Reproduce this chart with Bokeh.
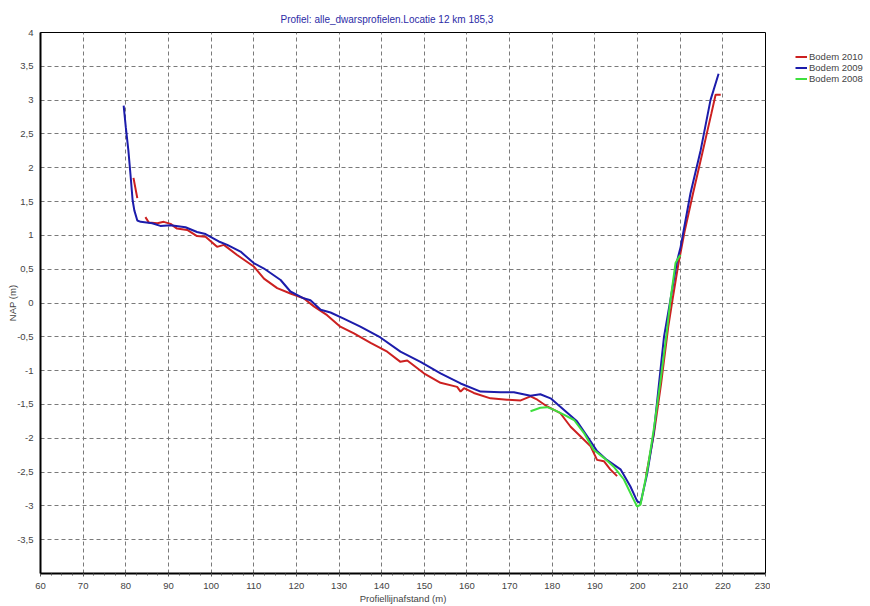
from bokeh.plotting import figure
from bokeh.models import Range1d, FixedTicker, Legend, LegendItem
from bokeh.layouts import row
from bokeh.embed import file_html
from bokeh.resources import INLINE

nan = float("nan")

title_text = "Profiel: alle_dwarsprofielen.Locatie 12 km 185,3"
x_label = "Profiellijnafstand (m)"
y_label = "NAP (m)"

x_ticks = [60, 70, 80, 90, 100, 110, 120, 130, 140, 150, 160, 170, 180, 190, 200, 210, 220, 230]
y_ticks = [-3.5, -3, -2.5, -2, -1.5, -1, -0.5, 0, 0.5, 1, 1.5, 2, 2.5, 3, 3.5, 4]
y_tick_labels = ["-3,5", "-3", "-2,5", "-2", "-1,5", "-1", "-0,5", "0", "0,5", "1", "1,5", "2", "2,5", "3", "3,5", "4"]

series_names = ["Bodem 2010", "Bodem 2009", "Bodem 2008"]

red_x = [81.8, 82.7, nan, 84.6, 85.4, 87.4, 88.9, 90.5, 92.0, 94.4, 96.7, 98.7, 101.4, 103.0, 106.1,
         110.0, 112.4, 115.5, 118.6, 121.7, 124.1, 127.2, 130.3, 133.5, 137.4, 141.3, 144.4, 146.0,
         149.9, 153.8, 157.7, 158.5, 159.3, 161.6, 165.5, 169.4, 172.6, 174.9, 176.5, 178.8, 181.9,
         184.3, 186.6, 189.0, 190.5, 192.1, 193.6, 195.2, nan, 202.0, 203.8, 205.5, 207.2, 208.2,
         209.5, 211.0, 213.0, 215.2, 217.3, 218.3, 219.5]
red_y = [1.85, 1.55, nan, 1.27, 1.19, 1.18, 1.20, 1.17, 1.10, 1.08, 0.99, 0.98, 0.83, 0.86, 0.71,
         0.54, 0.36, 0.22, 0.14, 0.07, -0.05, -0.18, -0.35, -0.45, -0.59, -0.72, -0.87, -0.85,
         -1.04, -1.18, -1.24, -1.31, -1.26, -1.33, -1.41, -1.43, -1.44, -1.38, -1.43, -1.53, -1.63,
         -1.83, -1.97, -2.12, -2.32, -2.34, -2.46, -2.56, nan, -2.55, -1.95, -1.20, -0.35, 0.05,
         0.55, 1.05, 1.62, 2.22, 2.80, 3.08, 3.08]

blue_x = [79.5, 80.0, 80.6, 81.1, 81.6, 82.0, 82.7, 83.5, 86.2, 88.1, 90.5, 94.0, 96.7, 98.7, 101.8,
          103.8, 106.9, 110.0, 112.4, 116.3, 118.6, 121.7, 123.3, 125.7, 128.0, 131.1, 135.0, 139.7,
          144.4, 149.1, 153.8, 158.5, 163.2, 167.9, 171.0, 174.9, 177.2, 179.6, 182.7, 185.8, 188.2,
          190.5, 192.8, 196.0, 198.3, 199.9, 200.7, 202.3, 203.8, 206.2, 209.3, 210.1, 212.4, 214.8,
          217.1, 219.0]
blue_y = [2.92, 2.60, 2.26, 1.90, 1.52, 1.37, 1.22, 1.20, 1.18, 1.14, 1.15, 1.12, 1.05, 1.02, 0.91,
          0.86, 0.76, 0.59, 0.51, 0.34, 0.17, 0.07, 0.04, -0.10, -0.14, -0.23, -0.35, -0.51,
          -0.72, -0.87, -1.04, -1.19, -1.31, -1.32, -1.32, -1.37, -1.35, -1.41, -1.58, -1.75, -1.97,
          -2.19, -2.32, -2.46, -2.71, -2.93, -2.96, -2.51, -1.92, -0.50, 0.63, 0.83, 1.62, 2.26,
          3.00, 3.39]

green_x = [174.9, 177.2, 178.8, 180.4, 182.7, 185.1, 187.4, 189.7, 192.1, 194.4, 196.8, 198.7,
           199.9, 200.7, 202.3, 203.8, 205.4, 206.9, 207.7, 208.9, 209.7, 210.1]
green_y = [-1.60, -1.55, -1.54, -1.58, -1.65, -1.73, -1.92, -2.17, -2.29, -2.42, -2.61, -2.86,
           -3.01, -2.98, -2.47, -1.87, -1.14, -0.40, 0.04, 0.59, 0.68, 0.71]

colors = ["#cc2020", "#1c1cab", "#3ee03e"]
FONT = "Liberation Sans"

p = figure(width=770, height=606, output_backend="svg", toolbar_location=None,
           x_range=Range1d(60, 230), y_range=Range1d(-4, 4),
           min_border_left=40, min_border_right=5, min_border_top=32, min_border_bottom=32,
           background_fill_color="white", border_fill_color="white")

p.title.text = title_text
p.title.align = "left"
p.title.offset = 240
p.title.text_font = FONT
p.title.text_font_size = "10px"
p.title.text_font_style = "normal"
p.title.text_color = "#2b2ba6"
p.title.standoff = 16

p.outline_line_color = "black"
p.outline_line_width = 1

# x axis
xa = p.xaxis[0]
xa.ticker = FixedTicker(ticks=x_ticks, minor_ticks=[60 + 2.5 * i for i in range(69)])
xa.axis_label = x_label
xa.axis_label_text_font = FONT
xa.axis_label_text_font_size = "9.5px"
xa.axis_label_text_font_style = "normal"
xa.axis_label_standoff = 1
xa.major_label_text_font = FONT
xa.major_label_text_font_size = "9.5px"
xa.major_label_standoff = 6
xa.axis_line_width = 2
xa.axis_line_color = "black"
xa.major_tick_in = 0
xa.major_tick_out = 3
xa.minor_tick_in = 0
xa.minor_tick_out = 2
xa.major_tick_line_color = "#555555"
xa.minor_tick_line_color = "#555555"

# y axis
ya = p.yaxis[0]
ya.ticker = FixedTicker(ticks=y_ticks)
ya.major_label_overrides = {t: s for t, s in zip(y_ticks, y_tick_labels)}
ya.axis_label = y_label
ya.axis_label_text_font = FONT
ya.axis_label_text_font_size = "9.5px"
ya.axis_label_text_font_style = "normal"
ya.axis_label_standoff = -4
ya.major_label_text_font = FONT
ya.major_label_text_font_size = "9.5px"
ya.major_label_standoff = 7
ya.axis_line_width = 2
ya.axis_line_color = "black"
ya.major_tick_in = 0
ya.major_tick_out = 0
ya.minor_tick_line_color = None

for g in (p.xgrid[0], p.ygrid[0]):
    g.grid_line_color = "#7a7a7a"
    g.grid_line_dash = "4 3"
    g.grid_line_width = 1

r_red = p.line(red_x, red_y, line_color=colors[0], line_width=2)
r_blue = p.line(blue_x, blue_y, line_color=colors[1], line_width=2)
r_green = p.line(green_x, green_y, line_color=colors[2], line_width=2)

# separate narrow panel that holds the legend (to the right of the plot frame)
q = figure(width=100, height=606, output_backend="svg", toolbar_location=None,
           x_range=Range1d(0, 1), y_range=Range1d(0, 1),
           min_border=0, background_fill_color="white", border_fill_color="white")
q.outline_line_color = None
q.axis.visible = False
q.grid.visible = False
l_red = q.line([nan], [nan], line_color=colors[0], line_width=2)
l_blue = q.line([nan], [nan], line_color=colors[1], line_width=2)
l_green = q.line([nan], [nan], line_color=colors[2], line_width=2)

legend = Legend(items=[LegendItem(label=series_names[0], renderers=[l_red]),
                       LegendItem(label=series_names[1], renderers=[l_blue]),
                       LegendItem(label=series_names[2], renderers=[l_green])],
                location=(25, 489), margin=0, padding=0, spacing=0,
                label_height=11, glyph_height=11, glyph_width=12, label_standoff=2,
                label_text_font=FONT, label_text_font_size="9.5px",
                border_line_color=None, background_fill_alpha=0)
q.add_layout(legend)

layout = row(p, q)
open("out.html", "w").write(file_html(layout, INLINE))
